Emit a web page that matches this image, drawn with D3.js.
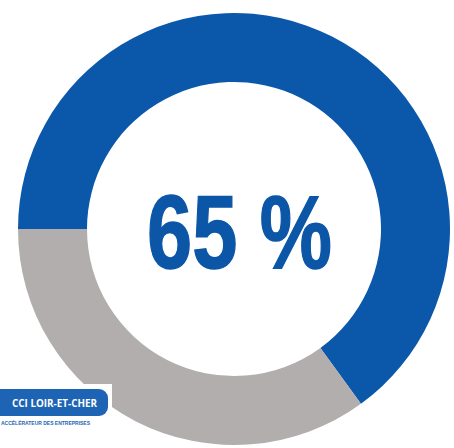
<!DOCTYPE html>
<html>
<head>
<meta charset="utf-8">
<script src="https://cdn.jsdelivr.net/npm/d3@7"></script>
<style>
html,body{margin:0;padding:0;background:#fff;overflow:hidden;}
svg{display:block;}
</style>
</head>
<body>
<svg id="chart" width="454" height="448"></svg>
<script>
// Data
const categories = ["Oui", "Non"];
const values = [65, 35];
const colors = ["#0b58aa", "#b2aead"];
const centerLabel = "65 %";
const logoTitle = "CCI LOIR-ET-CHER";
const logoSubtitle = "ACCÉLÉRATEUR DES ENTREPRISES";

const svg = d3.select("#chart");
const cx = 234, cy = 229, R = 216, r = 147;

const pie = d3.pie().sort(null).value(d => d)
  .startAngle(-Math.PI / 2).endAngle(1.5 * Math.PI);
const arc = d3.arc().innerRadius(r).outerRadius(R);

const g = svg.append("g").attr("transform", `translate(${cx},${cy})`);
g.selectAll("path").data(pie(values)).join("path")
  .attr("d", arc)
  .attr("fill", (d, i) => colors[i]);

svg.append("text")
  .attr("x", 147).attr("y", 268)
  .attr("font-family", "'Liberation Sans', Arial, sans-serif")
  .attr("font-weight", "bold")
  .attr("font-size", 104)
  .attr("textLength", 185)
  .attr("lengthAdjust", "spacingAndGlyphs")
  .attr("fill", "#0b56a7")
  .attr("stroke", "#0b56a7")
  .attr("stroke-width", 1.5)
  .text(centerLabel);

// logo
const logo = svg.append("g");
logo.append("rect").attr("x", 0).attr("y", 384).attr("width", 112).attr("height", 64).attr("fill", "#fff");
logo.append("rect").attr("x", -20).attr("y", 389).attr("width", 128).attr("height", 27).attr("rx", 9)
  .attr("fill", "#1d64b4");
logo.append("text").attr("x", 12).attr("y", 407)
  .attr("font-family", "'Open Sans', 'Liberation Sans', sans-serif")
  .attr("font-weight", "bold").attr("font-size", 10.5)
  .attr("textLength", 85).attr("lengthAdjust", "spacingAndGlyphs")
  .attr("fill", "#fff").text(logoTitle);
logo.append("text").attr("x", 1).attr("y", 425)
  .attr("font-family", "'Liberation Sans', sans-serif")
  .attr("font-weight", "bold").attr("font-size", 5)
  .attr("textLength", 89).attr("lengthAdjust", "spacingAndGlyphs")
  .attr("fill", "#1d64b4").text(logoSubtitle);
</script>
</body>
</html>
